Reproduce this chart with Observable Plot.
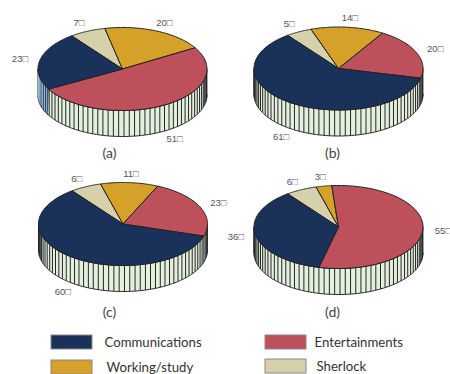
<!DOCTYPE html>
<html>
<head>
<meta charset="utf-8">
<script src="https://cdn.jsdelivr.net/npm/d3@7"></script>
<script src="https://cdn.jsdelivr.net/npm/@observablehq/plot@0.6"></script>
<style>
  html, body { margin: 0; padding: 0; background: #fff; }
</style>
</head>
<body>
<div id="chart"></div>
<script>
// Slice order around each pie, clockwise from the shared start angle.
const series = ["Sherlock", "Working/study", "Entertainments", "Communications"];
const seriesColors = ["#d6d0ab", "#d6a128", "#be505c", "#1a3259"];

// Usage shares per panel, in the order of `series`.
const panelA = [7, 20, 51, 23];
const panelB = [5, 14, 20, 61];
const panelC = [6, 11, 23, 60];
const panelD = [6, 3, 55, 36];
const panelNames = ["(a)", "(b)", "(c)", "(d)"];
const panelValues = [panelA, panelB, panelC, panelD];

// Page layout of the four cylinders and their captions.
const layout = [
  {cx: 122, cy: 68.5, capX: 109, capY: 153, tintedWall: true},
  {cx: 338, cy: 68, capX: 332, capY: 153, tintedWall: false},
  {cx: 122.5, cy: 223.5, capX: 109, capY: 312, tintedWall: false},
  {cx: 338, cy: 226.5, capX: 332, capY: 312, tintedWall: false}
];
const rx = 84.5, ry = 41.5, depth = 26;
const startAngle = 323, facetStep = 3.6;

// Legend entries with their swatch and label placement.
const legendNames = ["Communications", "Working/study", "Entertainments", "Sherlock"];
const legendSwatchX = [51, 51, 265, 265];
const legendSwatchY = [335, 360, 335, 359];
const legendTextX = [104, 106, 314, 316];

const rad = Math.PI / 180;
const rim = (p, a, drop = 0) => ({
  x: p.cx + rx * Math.sin(a * rad),
  y: p.cy - ry * Math.cos(a * rad) + drop
});

const sliceRows = [], labelRows = [], wallRows = [], tintRows = [], facetRows = [];

panelValues.forEach((values, i) => {
  const p = layout[i];
  const total = d3.sum(values);

  // Outer wall: the half of the cylinder facing the viewer.
  for (let a = 90; a <= 270; a += 1) wallRows.push({id: i, ...rim(p, a)});
  for (let a = 270; a >= 90; a -= 1) wallRows.push({id: i, ...rim(p, a, depth)});

  let angle = startAngle;
  values.forEach((v, j) => {
    const sweep = v / total * 360;
    const id = `${i}-${j}`;
    sliceRows.push({id, series: series[j], x: p.cx, y: p.cy});
    for (let t = 0; t <= 60; t++) {
      sliceRows.push({id, series: series[j], ...rim(p, angle + sweep * t / 60)});
    }
    sliceRows.push({id, series: series[j], x: p.cx, y: p.cy});

    // Value label just outside the rim; lower labels clear the wall.
    const mid = angle + sweep / 2;
    const front = Math.cos(mid * rad) < -0.5;
    labelRows.push({
      text: `${v}\u25a1`,
      x: p.cx + 1.24 * rx * Math.sin(mid * rad),
      y: p.cy - 1.22 * ry * Math.cos(mid * rad) + (front ? depth : 0)
    });

    // Panel (a) keeps the slice colour on the wall below its Communications slice.
    if (p.tintedWall && series[j] === "Communications") {
      const from = (angle + 360) % 360, to = 270;
      for (let a = from; a <= to; a += 1) tintRows.push({id: i, ...rim(p, a)});
      for (let a = to; a >= from; a -= 1) tintRows.push({id: i, ...rim(p, a, depth)});
      p.tintFrom = from;
    }
    angle += sweep;
  });

  // One vertical facet edge per percent around the cylinder.
  for (let k = 0; k < 100; k++) {
    const a = (startAngle + k * facetStep) % 360;
    if (a <= 90 || a >= 270) continue;
    const top = rim(p, a), bottom = rim(p, a, depth);
    facetRows.push({
      x1: top.x, y1: top.y, x2: bottom.x, y2: bottom.y,
      tinted: p.tintedWall && a > p.tintFrom
    });
  }
});

const legendRows = legendNames.map((name, i) => ({
  name, x: legendSwatchX[i], y: legendSwatchY[i], tx: legendTextX[i]
}));

const captionRows = panelNames.map((name, i) => ({
  name, x: layout[i].capX, y: layout[i].capY
}));

const chart = Plot.plot({
  width: 450,
  height: 374,
  margin: 0,
  x: {domain: [0, 450], range: [0, 450], axis: null},
  y: {domain: [0, 374], range: [0, 374], axis: null},
  color: {domain: series, range: seriesColors},
  style: {background: "#fff", overflow: "hidden"},
  marks: [
    Plot.line(wallRows, {x: "x", y: "y", z: "id", fill: "#e2f0dd", stroke: "#222", strokeWidth: 1}),
    Plot.line(tintRows, {x: "x", y: "y", z: "id", fill: "#2b4a78", stroke: "#222", strokeWidth: 1}),
    Plot.link(facetRows.filter(d => !d.tinted), {x1: "x1", y1: "y1", x2: "x2", y2: "y2", stroke: "#262626", strokeWidth: 1}),
    Plot.link(facetRows.filter(d => d.tinted), {x1: "x1", y1: "y1", x2: "x2", y2: "y2", stroke: "#b9cfd8", strokeWidth: 0.8}),
    Plot.line(sliceRows, {x: "x", y: "y", z: "id", fill: "series", stroke: "#222", strokeWidth: 1, strokeLinejoin: "round"}),
    Plot.text(labelRows, {x: "x", y: "y", text: "text", fill: "#555", fontSize: 9.5, fontFamily: "Liberation Sans"}),
    Plot.text(captionRows, {x: "x", y: "y", text: "name", fill: "#444", fontSize: 14, fontFamily: "Lato"}),
    Plot.rect(legendRows, {
      x1: "x", x2: d => d.x + 41, y1: "y", y2: d => d.y + 14,
      fill: "name", stroke: "#8a8a8a", strokeWidth: 1
    }),
    Plot.text(legendRows, {
      x: "tx", y: d => d.y + 7, text: "name", textAnchor: "start",
      fill: "#333", fontSize: 13.2, fontFamily: "Lato"
    })
  ]
});

document.getElementById("chart").appendChild(chart);
</script>
</body>
</html>
